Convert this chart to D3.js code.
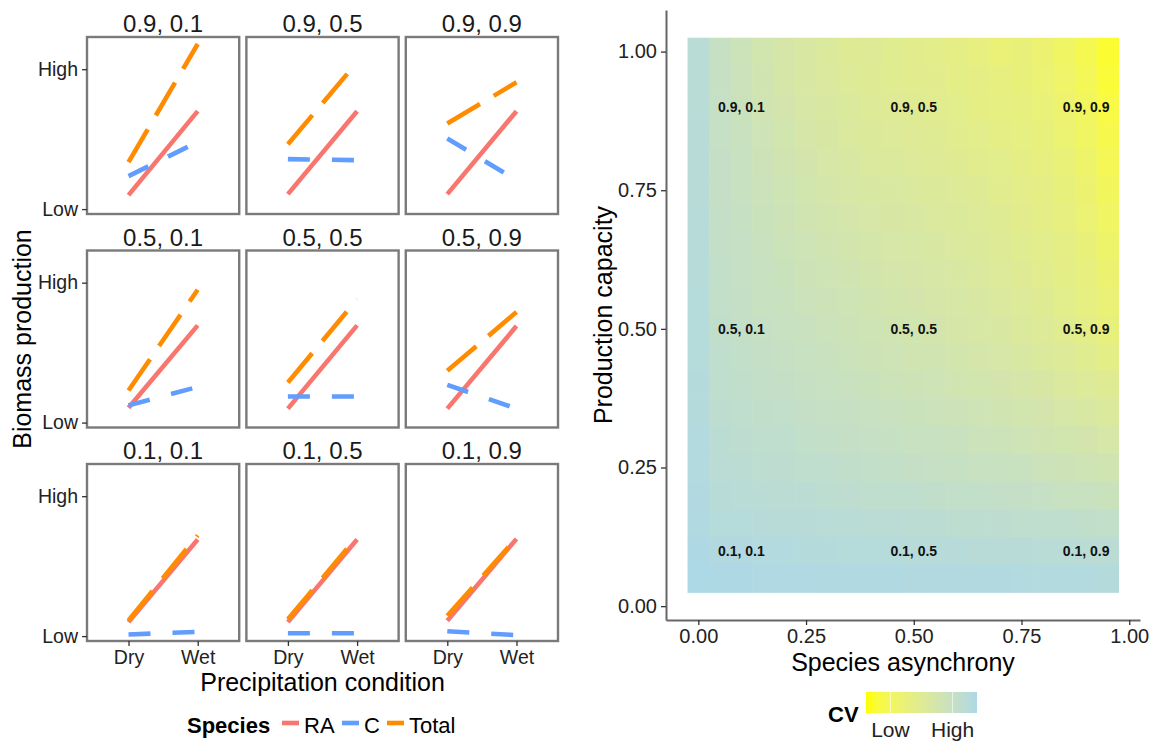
<!DOCTYPE html>
<html>
<head>
<meta charset="utf-8">
<script src="https://cdn.jsdelivr.net/npm/d3@7"></script>
<style>
  body { margin: 0; background: #fff; }
  text { font-family: "Liberation Sans", Arial, sans-serif; }
</style>
</head>
<body>
<svg id="chart" width="1155" height="745"></svg>
<script>
// facets: rows = production capacity, cols = species asynchrony
const capacityLevels = [0.9, 0.5, 0.1];
const asynchronyLevels = [0.1, 0.5, 0.9];
const conditions = ["Dry", "Wet"];
const species = ["RA", "C", "Total"];
const speciesColors = ["#F8766D", "#619CFF", "#FF8C00"];
const speciesDash = [null, "22,22", "38,16"];
const biomassTicks = [0, 1];
const biomassTickLabels = ["Low", "High"];

// biomass [Dry, Wet] per facet, read row by row (0.9,0.1), (0.9,0.5) ... (0.1,0.9)
const raBiomass = [
  [0.10, 0.70], [0.107, 0.70], [0.107, 0.70],
  [0.106, 0.695], [0.10, 0.695], [0.10, 0.69],
  [0.10, 0.69], [0.10, 0.69], [0.11, 0.695]
];
const cBiomass = [
  [0.236, 0.48], [0.357, 0.35], [0.505, 0.206],
  [0.123, 0.255], [0.187, 0.187], [0.27, 0.10],
  [0.012, 0.03], [0.02, 0.02], [0.035, 0.007]
];
const totalBiomass = [
  [0.336, 1.18], [0.464, 1.05], [0.612, 0.906],
  [0.229, 0.95], [0.287, 0.882], [0.37, 0.79],
  [0.112, 0.72], [0.12, 0.71], [0.145, 0.70]
];

// heatmap: CV (0 = low, 1 = high), rows from capacity 1.00 down to 0.05
const asynchronySteps = [0.00, 0.05, 0.10, 0.15, 0.20, 0.25, 0.30, 0.35, 0.40, 0.45,
                         0.50, 0.55, 0.60, 0.65, 0.70, 0.75, 0.80, 0.85, 0.90, 0.95];
const capacitySteps = [1.00, 0.95, 0.90, 0.85, 0.80, 0.75, 0.70, 0.65, 0.60, 0.55,
                       0.50, 0.45, 0.40, 0.35, 0.30, 0.25, 0.20, 0.15, 0.10, 0.05];
const cvGrid = [
  [0.90,0.78,0.72,0.66,0.62,0.58,0.55,0.50,0.51,0.48,0.46,0.44,0.42,0.39,0.34,0.36,0.31,0.25,0.17,0.07],
  [0.90,0.78,0.73,0.67,0.62,0.58,0.56,0.52,0.50,0.48,0.47,0.46,0.43,0.41,0.39,0.36,0.33,0.27,0.20,0.09],
  [0.90,0.79,0.74,0.68,0.64,0.60,0.57,0.55,0.52,0.51,0.49,0.47,0.45,0.42,0.40,0.38,0.35,0.30,0.23,0.13],
  [0.91,0.79,0.75,0.70,0.66,0.62,0.59,0.56,0.54,0.52,0.51,0.49,0.47,0.45,0.42,0.40,0.37,0.32,0.25,0.16],
  [0.91,0.80,0.76,0.71,0.67,0.64,0.61,0.58,0.56,0.55,0.53,0.51,0.49,0.47,0.45,0.42,0.39,0.35,0.28,0.19],
  [0.91,0.80,0.77,0.73,0.69,0.66,0.63,0.60,0.58,0.57,0.56,0.54,0.52,0.50,0.47,0.44,0.41,0.37,0.31,0.22],
  [0.92,0.81,0.78,0.74,0.71,0.68,0.65,0.63,0.61,0.59,0.58,0.56,0.54,0.52,0.49,0.46,0.43,0.39,0.33,0.25],
  [0.92,0.81,0.79,0.75,0.72,0.70,0.67,0.65,0.63,0.61,0.60,0.58,0.56,0.54,0.51,0.48,0.45,0.41,0.36,0.28],
  [0.92,0.82,0.79,0.76,0.74,0.71,0.69,0.67,0.65,0.63,0.62,0.60,0.58,0.56,0.53,0.50,0.47,0.43,0.38,0.31],
  [0.93,0.82,0.80,0.77,0.75,0.73,0.71,0.69,0.67,0.65,0.64,0.62,0.60,0.58,0.56,0.53,0.49,0.45,0.40,0.34],
  [0.93,0.83,0.81,0.79,0.77,0.75,0.73,0.71,0.69,0.67,0.66,0.64,0.62,0.60,0.58,0.55,0.52,0.48,0.43,0.37],
  [0.93,0.84,0.82,0.80,0.78,0.76,0.75,0.73,0.71,0.70,0.68,0.67,0.65,0.63,0.61,0.58,0.55,0.52,0.48,0.43],
  [0.94,0.85,0.83,0.81,0.80,0.78,0.77,0.75,0.74,0.72,0.71,0.70,0.68,0.66,0.64,0.62,0.59,0.56,0.53,0.49],
  [0.94,0.86,0.85,0.83,0.82,0.80,0.79,0.78,0.76,0.75,0.74,0.73,0.71,0.70,0.68,0.66,0.64,0.61,0.58,0.55],
  [0.95,0.88,0.86,0.85,0.84,0.82,0.81,0.80,0.79,0.78,0.77,0.76,0.75,0.73,0.72,0.70,0.68,0.66,0.64,0.61],
  [0.95,0.89,0.88,0.87,0.86,0.85,0.84,0.83,0.82,0.81,0.80,0.79,0.78,0.77,0.76,0.75,0.73,0.71,0.69,0.67],
  [0.96,0.91,0.90,0.89,0.88,0.88,0.87,0.86,0.85,0.85,0.84,0.83,0.82,0.82,0.81,0.80,0.79,0.77,0.76,0.74],
  [0.97,0.93,0.93,0.92,0.91,0.91,0.90,0.90,0.89,0.89,0.88,0.88,0.87,0.87,0.86,0.85,0.85,0.84,0.83,0.82],
  [0.99,0.96,0.96,0.95,0.95,0.94,0.94,0.93,0.93,0.93,0.92,0.92,0.92,0.91,0.91,0.91,0.90,0.90,0.89,0.89],
  [1.00,0.99,0.99,0.98,0.98,0.98,0.97,0.97,0.97,0.97,0.96,0.96,0.96,0.96,0.96,0.95,0.95,0.95,0.95,0.94]
];
const heatTicks = [0, 0.25, 0.5, 0.75, 1];
const cvLegendLabels = ["Low", "High"];
const cvLegendAt = [0.22, 0.78];

const svg = d3.select("#chart");
const tickColor = "#333";
const fontStack = '"Liberation Sans", Arial, sans-serif';

//---------------- left: faceted lines ----------------
const fx = d3.scaleBand().domain(asynchronyLevels).range([87, 558]).paddingInner(0.045);
const fy = d3.scaleBand().domain(capacityLevels).range([37, 641]).paddingInner(0.171);
const pw = fx.bandwidth(), ph = fy.bandwidth();
const x = d3.scalePoint().domain(conditions).range([0, pw]).padding(0.6);
const y = d3.scaleLinear().domain([-0.035, 1.23]).range([ph, 0]);
const line = d3.line().x(d => x(d.cond)).y(d => y(d.value));

const seriesValues = [raBiomass, cBiomass, totalBiomass];
const facets = [];
capacityLevels.forEach((cap, r) => {
  asynchronyLevels.forEach((asy, c) => {
    const idx = r * 3 + c;
    facets.push({
      cap, asy, r, c,
      series: species.map((s, k) => ({
        name: s, k,
        points: conditions.map((cond, j) => ({ cond, value: seriesValues[k][idx][j] }))
      }))
    });
  });
});

const panel = svg.selectAll("g.facet")
  .data(facets)
  .enter()
  .append("g")
    .attr("class", "facet")
    .attr("transform", d => `translate(${fx(d.asy)},${fy(d.cap)})`);

panel.append("rect")
  .attr("width", pw).attr("height", ph)
  .attr("fill", "#fff");

panel.selectAll("path.series")
  .data(d => d.series)
  .enter()
  .append("path")
    .attr("class", "series")
    .attr("d", d => line(d.points))
    .attr("fill", "none")
    .attr("stroke", d => speciesColors[d.k])
    .attr("stroke-width", 4.6)
    .attr("stroke-dasharray", d => speciesDash[d.k]);

panel.append("rect")
  .attr("width", pw).attr("height", ph)
  .attr("fill", "none")
  .attr("stroke", "#7a7a7a")
  .attr("stroke-width", 2.4);

// strip labels
panel.append("text")
  .attr("x", pw / 2).attr("y", -5)
  .attr("text-anchor", "middle")
  .attr("font-size", 24)
  .attr("fill", "#1a1a1a")
  .text(d => `${d.cap}, ${d.asy}`);

// y ticks on first column
panel.filter(d => d.c === 0).append("g")
  .call(d3.axisLeft(y).tickValues(biomassTicks)
    .tickFormat((d, i) => biomassTickLabels[i]).tickSize(5).tickPadding(4))
  .call(g => g.select(".domain").remove())
  .call(g => g.selectAll("line").attr("stroke", tickColor).attr("stroke-width", 1.3))
  .call(g => g.selectAll("text").attr("font-size", 19.5).attr("fill", "#222")
    .style("font-family", fontStack));

// x ticks on last row
panel.filter(d => d.r === 2).append("g")
  .attr("transform", `translate(0,${ph})`)
  .call(d3.axisBottom(x).tickSize(5).tickPadding(4))
  .call(g => g.select(".domain").remove())
  .call(g => g.selectAll("line").attr("stroke", tickColor).attr("stroke-width", 1.3))
  .call(g => g.selectAll("text").attr("font-size", 19.5).attr("fill", "#222")
    .style("font-family", fontStack));

svg.append("text")
  .attr("transform", `translate(31,${(37 + 641) / 2}) rotate(-90)`)
  .attr("text-anchor", "middle")
  .attr("font-size", 25)
  .text("Biomass production");

svg.append("text")
  .attr("x", (87 + 558) / 2).attr("y", 691)
  .attr("text-anchor", "middle")
  .attr("font-size", 25)
  .text("Precipitation condition");

// species legend
const legend = svg.append("g").attr("transform", "translate(187,733)");
legend.append("text")
  .attr("font-size", 22).attr("font-weight", "bold")
  .text("Species");
const keyX = [95, 155, 200];
species.forEach((s, k) => {
  legend.append("line")
    .attr("x1", keyX[k]).attr("x2", keyX[k] + 17)
    .attr("y1", -10).attr("y2", -10)
    .attr("stroke", speciesColors[k])
    .attr("stroke-width", 4.6)
    .attr("stroke-dasharray", speciesDash[k]);
  legend.append("text")
    .attr("x", keyX[k] + 22)
    .attr("font-size", 22)
    .text(s);
});

//---------------- right: CV heatmap ----------------
const hx = d3.scaleLinear().domain([-0.075, 1.025]).range([666, 1140]);
const hy = d3.scaleLinear().domain([-0.025, 1.075]).range([620, 10]);
const cvColor = d3.scaleLinear().domain([0, 1])
  .range(["yellow", "lightblue"]).interpolate(d3.interpolateLab);

const tiles = [];
capacitySteps.forEach((cap, r) => {
  asynchronySteps.forEach((asy, c) => {
    tiles.push({ cap, asy, cv: cvGrid[r][c] });
  });
});
const tw = hx(0.05) - hx(0), th = hy(0) - hy(0.05);

svg.append("g")
  .selectAll("rect")
  .data(tiles)
  .enter()
  .append("rect")
    .attr("x", d => hx(d.asy - 0.025))
    .attr("y", d => hy(d.cap + 0.025))
    .attr("width", tw + 0.6)
    .attr("height", th + 0.6)
    .attr("fill", d => cvColor(d.cv));

// scenario labels on the heatmap
const labelData = [];
capacityLevels.forEach(cap => asynchronyLevels.forEach(asy => labelData.push({ cap, asy })));
svg.append("g")
  .selectAll("text")
  .data(labelData)
  .enter()
  .append("text")
    .attr("x", d => hx(d.asy))
    .attr("y", d => hy(d.cap))
    .attr("dy", "0.35em")
    .attr("text-anchor", "middle")
    .attr("font-size", 14)
    .attr("font-weight", "bold")
    .attr("fill", "#111")
    .text(d => `${d.cap}, ${d.asy}`);

svg.append("g")
  .attr("transform", "translate(666,0)")
  .call(d3.axisLeft(hy).tickValues(heatTicks).tickFormat(d3.format(".2f"))
    .tickSize(5).tickSizeOuter(0).tickPadding(4))
  .call(g => g.select(".domain").attr("stroke", "#666").attr("stroke-width", 2))
  .call(g => g.selectAll(".tick line").attr("stroke", tickColor).attr("stroke-width", 1.3))
  .call(g => g.selectAll("text").attr("font-size", 20).attr("fill", "#222")
    .style("font-family", fontStack));

svg.append("g")
  .attr("transform", "translate(0,620)")
  .call(d3.axisBottom(hx).tickValues(heatTicks).tickFormat(d3.format(".2f"))
    .tickSize(5).tickSizeOuter(0).tickPadding(4))
  .call(g => g.select(".domain").attr("stroke", "#666").attr("stroke-width", 2))
  .call(g => g.selectAll(".tick line").attr("stroke", tickColor).attr("stroke-width", 1.3))
  .call(g => g.selectAll("text").attr("font-size", 20).attr("fill", "#222")
    .style("font-family", fontStack));

svg.append("text")
  .attr("transform", `translate(612,${(10 + 620) / 2}) rotate(-90)`)
  .attr("text-anchor", "middle")
  .attr("font-size", 25)
  .text("Production capacity");

svg.append("text")
  .attr("x", (666 + 1140) / 2).attr("y", 671)
  .attr("text-anchor", "middle")
  .attr("font-size", 25)
  .text("Species asynchrony");

// CV colour bar
const defs = svg.append("defs");
const grad = defs.append("linearGradient").attr("id", "cvgrad");
d3.range(0, 1.0001, 0.1).forEach(t => {
  grad.append("stop").attr("offset", t).attr("stop-color", cvColor(t));
});
const barX = d3.scaleLinear().domain([0, 1]).range([866, 977]);
svg.append("rect")
  .attr("x", barX(0)).attr("y", 692)
  .attr("width", barX(1) - barX(0)).attr("height", 21)
  .attr("fill", "url(#cvgrad)");
cvLegendAt.forEach((v, i) => {
  svg.append("line")
    .attr("x1", barX(v)).attr("x2", barX(v))
    .attr("y1", 692).attr("y2", 713)
    .attr("stroke", "#fff").attr("stroke-opacity", 0.6);
  svg.append("text")
    .attr("x", barX(v)).attr("y", 737)
    .attr("text-anchor", "middle")
    .attr("font-size", 21)
    .attr("fill", "#222")
    .text(cvLegendLabels[i]);
});
svg.append("text")
  .attr("x", 828).attr("y", 722)
  .attr("font-size", 22).attr("font-weight", "bold")
  .text("CV");
</script>
</body>
</html>
